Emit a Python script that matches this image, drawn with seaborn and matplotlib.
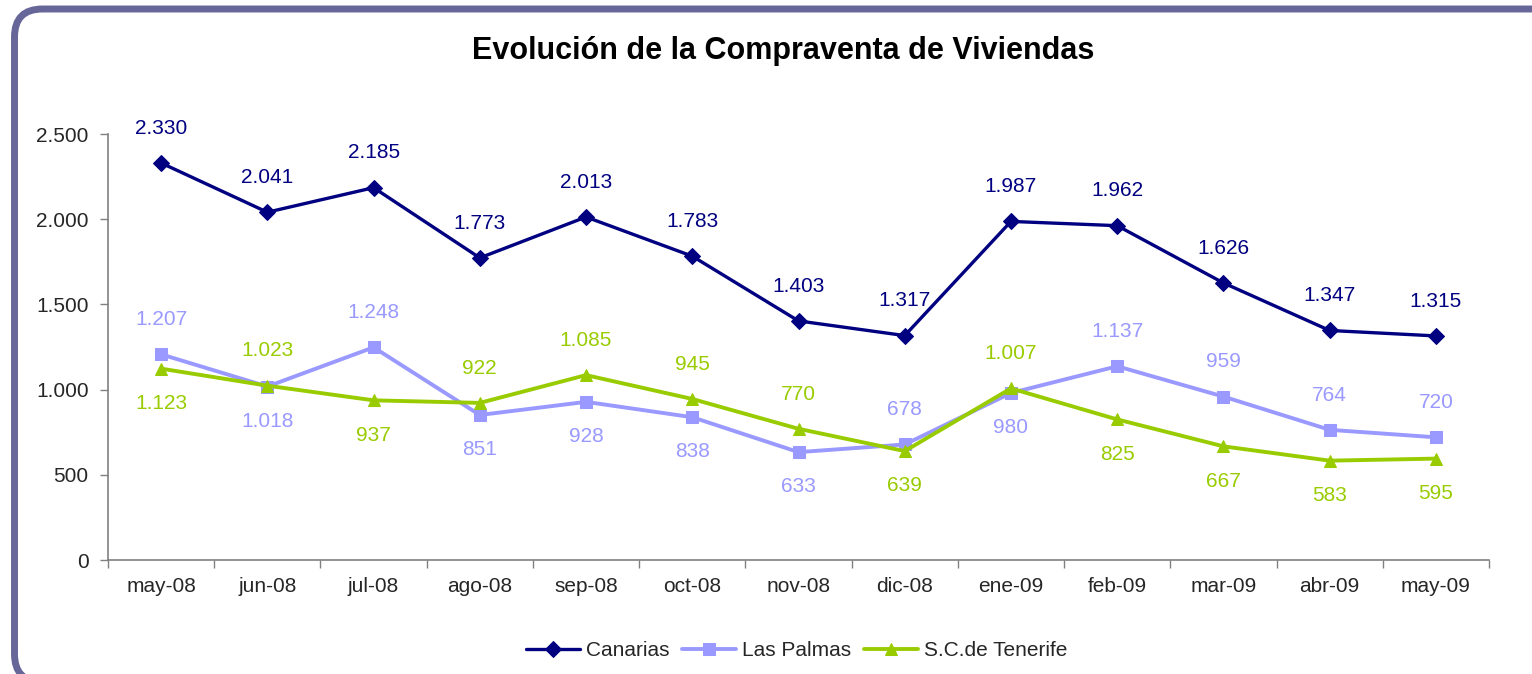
import matplotlib
matplotlib.use("Agg")
import matplotlib.pyplot as plt
import seaborn as sns
import pandas as pd
from matplotlib.patches import FancyBboxPatch
from matplotlib.transforms import IdentityTransform
from matplotlib.ticker import FuncFormatter, FixedLocator

months = ["may-08", "jun-08", "jul-08", "ago-08", "sep-08", "oct-08", "nov-08",
          "dic-08", "ene-09", "feb-09", "mar-09", "abr-09", "may-09"]
canarias = [2330, 2041, 2185, 1773, 2013, 1783, 1403, 1317, 1987, 1962, 1626, 1347, 1315]
las_palmas = [1207, 1018, 1248, 851, 928, 838, 633, 678, 980, 1137, 959, 764, 720]
tenerife = [1123, 1023, 937, 922, 1085, 945, 770, 639, 1007, 825, 667, 583, 595]
# label placement: +1 above, -1 below
lp_pos = [1, -1, 1, -1, -1, -1, -1, 1, -1, 1, 1, 1, 1]
tf_pos = [-1, 1, -1, 1, 1, 1, 1, -1, 1, -1, -1, -1, -1]

series_names = ["Canarias", "Las Palmas", "S.C.de Tenerife"]
colors = ["#000080", "#9999FF", "#99CC00"]
markers = ["D", "s", "^"]

sns.set_theme(style="white")
plt.rcParams["font.family"] = ["Liberation Sans", "DejaVu Sans"]

fig = plt.figure(figsize=(15.32, 6.74), dpi=100)
ax = fig.add_axes([108 / 1532, 1 - 560 / 674, (1489 - 108) / 1532, (560 - 134) / 674])

idx = list(range(len(months)))
values = [canarias, las_palmas, tenerife]
positions = [[1] * len(months), lp_pos, tf_pos]
msizes = [8, 8, 9]
lws = [2.4, 2.8, 2.8]

def fmt(v):
    return f"{int(v):,}".replace(",", ".")

for name, vals, col, mk, ms, lw, pos in zip(series_names, values, colors, markers, msizes, lws, positions):
    df = pd.DataFrame({"x": idx, "y": vals})
    sns.lineplot(data=df, x="x", y="y", ax=ax, color=col, marker=mk, markersize=ms,
                 markeredgecolor=col, linewidth=lw, label=name)
    for xi, yi, p in zip(idx, vals, pos):
        ax.annotate(fmt(yi), (xi, yi), xytext=(0, 25 * p), textcoords="offset points",
                    ha="center", va="center", color=col, fontsize=15)

ax.set_xlim(-0.5, 12.5)
ax.set_ylim(0, 2500)
ax.set_xlabel("")
ax.set_ylabel("")

ax.xaxis.set_major_locator(FixedLocator([i - 0.5 for i in range(len(months) + 1)]))
ax.xaxis.set_minor_locator(FixedLocator(idx))
ax.set_xticklabels([], minor=False)
ax.set_xticks(idx, minor=True)
ax.set_xticklabels(months, minor=True, fontsize=15)
ax.tick_params(axis="x", which="major", length=6, width=1, color="#808080", direction="out", bottom=True)
ax.tick_params(axis="x", which="minor", length=0, pad=12)

ax.set_yticks([0, 500, 1000, 1500, 2000, 2500])
ax.yaxis.set_major_formatter(FuncFormatter(lambda v, p: fmt(v)))
ax.tick_params(axis="y", length=6, width=1, color="#808080", direction="out", left=True, labelsize=15, pad=8)

for s in ["top", "right"]:
    ax.spines[s].set_visible(False)
for s in ["left", "bottom"]:
    ax.spines[s].set_color("#808080")
    ax.spines[s].set_linewidth(1.2)

ax.legend_.remove()
handles, labels = ax.get_legend_handles_labels()
fig.legend(handles, labels, loc="center", bbox_to_anchor=(0.52, 1 - 651 / 674), ncol=3,
           frameon=False, fontsize=15, handlelength=2.6, columnspacing=0.6, handletextpad=0.3)

fig.text(0.511, 1 - 51 / 674, "Evolución de la Compraventa de Viviendas", ha="center", va="center",
         fontsize=22, fontweight="bold", color="black")

border = FancyBboxPatch((14.5, -8), 1600, 665 + 8, boxstyle="round,pad=0,rounding_size=28",
                        transform=IdentityTransform(), fill=False, edgecolor="#666699", linewidth=5)
fig.add_artist(border)

fig.savefig("out.png", dpi=100)
